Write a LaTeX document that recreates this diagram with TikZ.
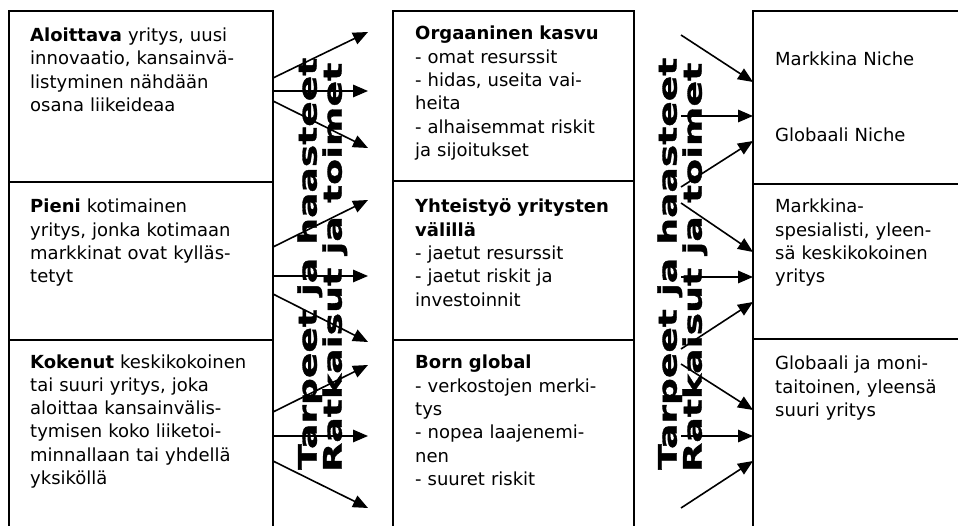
\documentclass[tikz,border=0pt]{standalone}
\usepackage{fontspec}
\usepackage{graphicx}
\setmainfont{DejaVu Sans}
\newfontfamily\vlabfont[FakeBold=1.2]{DejaVu Sans Bold}
\usetikzlibrary{arrows.meta}
\begin{document}
\begin{tikzpicture}[x=1pt,y=-1pt,
  frame/.style={draw, line width=1.8pt, inner sep=0pt, outer sep=0pt, anchor=north west},
  txt/.style={anchor=base west, inner sep=0pt, text width=250pt, align=left, font=\fontsize{18}{23.3}\selectfont},
  arr/.style={line width=1.6pt, -{Triangle[length=15pt,width=12.5pt]}},
  vlab/.style={rotate=90, anchor=base west, inner sep=0pt, font=\fontsize{25.5}{30}\selectfont\vlabfont}]
\clip (0,0) rectangle (958,526);
\fill[white] (0,0) rectangle (958,526);
% boxes
\node[frame, minimum width=264pt, minimum height=171pt] (L1) at (9,11) {};
\node[frame, minimum width=264pt, minimum height=158pt] (L2) at (9,182) {};
\node[frame, minimum width=264pt, minimum height=220pt] (L3) at (9,340) {};
\node[frame, minimum width=241pt, minimum height=170pt] (M1) at (393,11) {};
\node[frame, minimum width=241pt, minimum height=159pt] (M2) at (393,181) {};
\node[frame, minimum width=241pt, minimum height=220pt] (M3) at (393,340) {};
\node[frame, minimum width=260pt, minimum height=173pt] (R1) at (753,11) {};
\node[frame, minimum width=260pt, minimum height=155pt] (R2) at (753,184) {};
\node[frame, minimum width=260pt, minimum height=220pt] (R3) at (753,339) {};
% texts
\node[txt] (tL1) at (30,41.7) {\textbf{Aloittava} yritys, uusi\\innovaatio, kansainvä-\\listyminen nähdään\\osana liikeideaa};
\node[txt] (tL2) at (30,213) {\textbf{Pieni} kotimainen\\yritys, jonka kotimaan\\markkinat ovat kylläs-\\tetyt};
\node[txt] (tL3) at (30,368) {\textbf{Kokenut} keskikokoinen\\tai suuri yritys, joka\\aloittaa kansainvälis-\\tymisen koko liiketoi-\\minnallaan tai yhdellä\\yksiköllä};
\node[txt] (tM1) at (415,40) {\textbf{Orgaaninen kasvu}\\- omat resurssit\\- hidas, useita vai-\\heita\\- alhaisemmat riskit\\ja sijoitukset};
\node[txt] (tM2) at (415,213) {\textbf{Yhteistyö yritysten}\\\textbf{välillä}\\- jaetut resurssit\\- jaetut riskit ja\\investoinnit};
\node[txt] (tM3) at (415,369) {\textbf{Born global}\\- verkostojen merki-\\tys\\- nopea laajenemi-\\nen\\- suuret riskit};
\node[txt] (tR1a) at (775,66) {Markkina Niche};
\node[txt] (tR1b) at (775,142) {Globaali Niche};
\node[txt] (tR2) at (775,213) {Markkina-\\spesialisti, yleen-\\sä keskikokoinen\\yritys};
\node[txt] (tR3) at (775,370) {Globaali ja moni-\\taitoinen, yleensä\\suuri yritys};
% rotated labels
\node[vlab] (v1) at (316.7,470) {\resizebox{412pt}{\height}{Tarpeet ja haasteet}};
\node[vlab] (v2) at (341.7,472) {\resizebox{409pt}{\height}{Ratkaisut ja toimet}};
\node[vlab] (v3) at (676.7,470) {\resizebox{412pt}{\height}{Tarpeet ja haasteet}};
\node[vlab] (v4) at (701.7,472) {\resizebox{409pt}{\height}{Ratkaisut ja toimet}};
% arrows
\foreach \n/\xa/\ya/\xb/\yb in {
  a1/273/78/368/32, a2/273/91/368/91, a3/273/101/368/148,
  a4/273/247/368/200, a5/273/276/368/276, a6/273/294/368/342,
  a7/273/412/368/365, a8/273/436/368/436, a9/273/461/368/508,
  b1/681/35/753/82, b2/681/116/753/116, b3/681/187/753/141,
  b4/681/203/753/252, b5/681/277/753/277, b6/681/349/753/302,
  b7/681/364/753/410, b8/681/436/753/436, b9/681/508/753/461}{
  \coordinate (s\n) at (\xa,\ya);
  \coordinate (e\n) at (\xb,\yb);
  \draw[arr] (s\n) -- (e\n);
}
\end{tikzpicture}
\end{document}
